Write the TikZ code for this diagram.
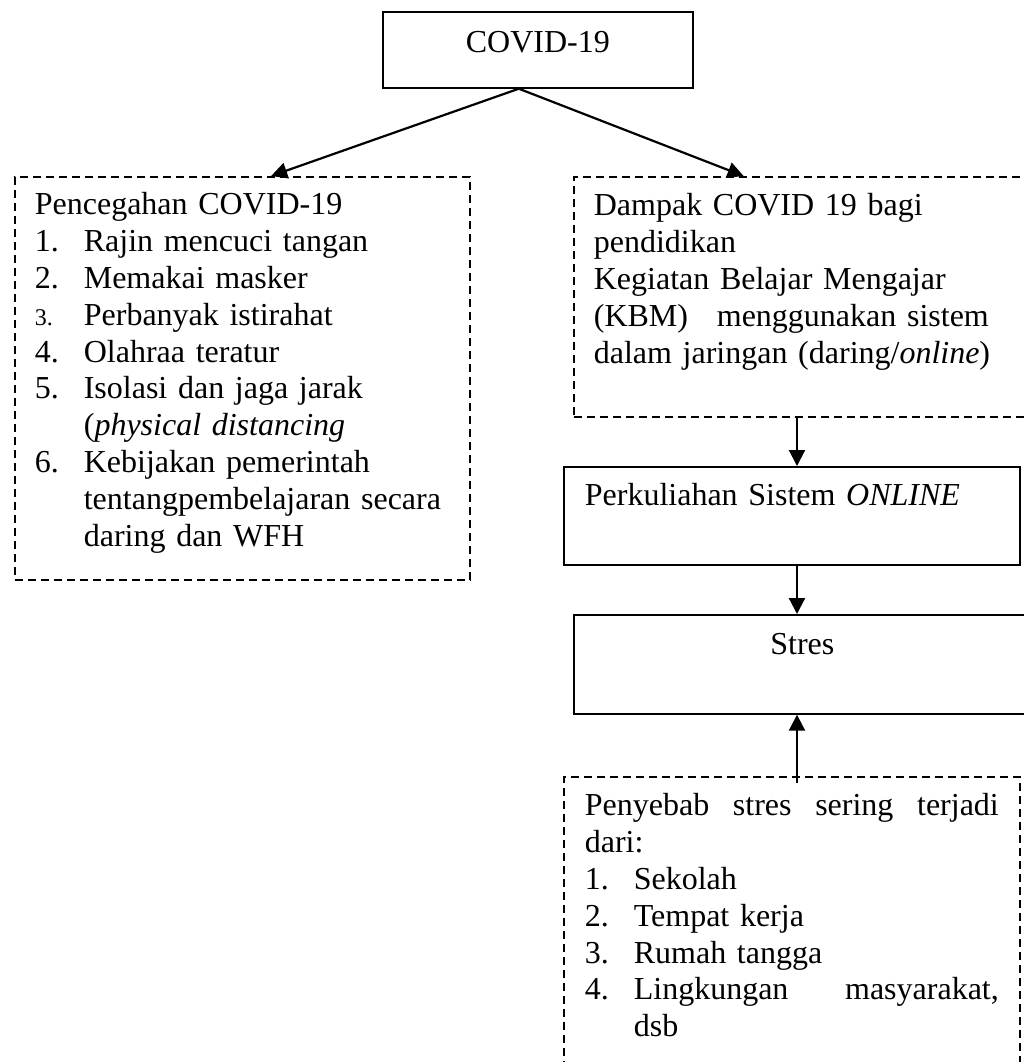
\documentclass[tikz,border=0pt]{standalone}
\usepackage{fontspec}
\setmainfont{Liberation Serif}
\usetikzlibrary{arrows.meta,calc}

\newcommand{\numitem}[1]{\makebox[24.5pt][l]{#1}}
\newcommand{\numpad}{\hspace*{24.5pt}}

\begin{document}
\begin{tikzpicture}[x=0.5pt, y=-0.5pt,
    every node/.style={anchor=north west, inner ysep=0pt, font=\fontsize{16pt}{18.4pt}\selectfont},
    solidbox/.style={draw, line width=0.85pt},
    dashbox/.style={draw, line width=0.85pt, dash pattern=on 4pt off 2.5pt},
    arr/.style={line width=1.1pt, -{Triangle[length=8pt,width=8pt]}}]

    \useasboundingbox (0,0) rectangle (1024,1062);
    \clip (0,0) rectangle (1024,1062);

    \node [solidbox, inner xsep=0pt, text width=155pt, align=center, text height=20.5pt, text depth=17.5pt] (covid) at (382,11) {COVID-19};

    % Left column
    \node [dashbox, inner xsep=10pt, text width=207.5pt, align=left, text height=19pt, text depth=182.5pt] (cegah) at (14,176)
        {Pencegahan COVID-19\\
         \numitem{1.}Rajin mencuci tangan\\
         \numitem{2.}Memakai masker\\
         \numitem{\fontsize{12pt}{12pt}\selectfont 3.}Perbanyak istirahat\\
         \numitem{4.}Olahraa teratur\\
         \numitem{5.}Isolasi dan jaga jarak\\
         \numpad(\textit{physical distancing}\\
         \numitem{6.}Kebijakan pemerintah\\
         \numpad tentangpembelajaran secara\\
         \numpad daring dan WFH};

    % Right column
    \node [dashbox, inner xsep=10pt, text width=213.5pt, align=left, text height=19.5pt, text depth=100.5pt] (dampak) at (573,176)
        {Dampak COVID 19 bagi\\
         pendidikan\\
         Kegiatan Belajar Mengajar\\
         \makebox[197.5pt][l]{(KBM)\hfill menggunakan sistem}\\
         dalam jaringan (daring/\textit{online})};
    \node [solidbox, inner xsep=10.5pt, text width=207pt, align=left, text height=19.5pt, text depth=29.5pt] (kuliah) at (563,466)
        {Perkuliahan Sistem \textit{ONLINE}};
    \node [solidbox, inner xsep=0pt, text width=228.5pt, align=center, text height=20pt, text depth=29.5pt] (stres) at (573,614) {Stres};
    \node [dashbox, inner xsep=10.5pt, text width=207pt, align=left, text height=19.5pt, text depth=130pt] (sebab) at (563,776)
        {Penyebab\hfill stres\hfill sering\hfill terjadi\\
         dari:\\
         \numitem{1.}Sekolah\\
         \numitem{2.}Tempat kerja\\
         \numitem{3.}Rumah tangga\\
         \numitem{4.}Lingkungan\hfill masyarakat,\\
         \numpad dsb};

    % Connectors
    \coordinate (spine) at (797,0);
    \draw [arr] ($(covid.south west)!0.439!(covid.south east)$) -- ($(cegah.north west)!0.563!(cegah.north east)$);
    \draw [arr] ($(covid.south west)!0.439!(covid.south east)$) -- ($(dampak.north west)!0.364!(dampak.north east)$);
    \draw [arr] (dampak.south -| spine) -- (kuliah.north -| spine);
    \draw [arr] (kuliah.south -| spine) -- (stres.north -| spine);
    \draw [arr] ($(sebab.north -| spine)+(0,7)$) -- (stres.south -| spine);

\end{tikzpicture}
\end{document}
